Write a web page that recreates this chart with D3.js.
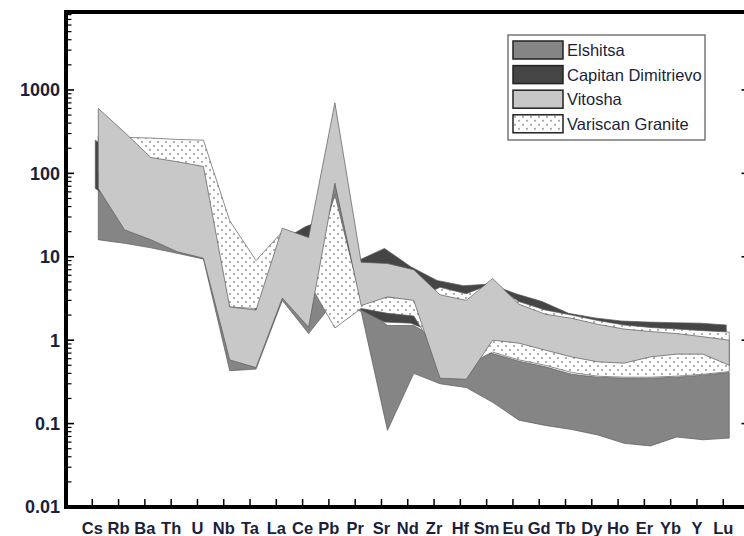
<!DOCTYPE html>
<html>
<head>
<meta charset="utf-8">
<script src="https://cdn.jsdelivr.net/npm/d3@7"></script>
<style>
  html, body { margin: 0; padding: 0; background: #fff; }
  svg text { font-family: "Liberation Sans", Arial, sans-serif; }
</style>
</head>
<body>
<div id="chart"></div>
<script>
const elements = ["Cs","Rb","Ba","Th","U","Nb","Ta","La","Ce","Pb","Pr","Sr","Nd","Zr","Hf","Sm","Eu","Gd","Tb","Dy","Ho","Er","Yb","Y","Lu"];

// band limits (sample / chondrite)
const elshitsaHigh = [70, 40, 30, 25, 20, 1.5, 1.5, 4, 3, 80, 2.6, 1.5, 1.5, 1.0, 0.9, 0.69, 0.56, 0.48, 0.39, 0.36, 0.35, 0.35, 0.36, 0.38, 0.41];
const elshitsaLow  = [16, 14.5, 12.8, 11, 9.4, 0.43, 0.45, 3.0, 1.2, 3, 2.2, 0.083, 0.4, 0.3, 0.27, 0.18, 0.11, 0.095, 0.085, 0.073, 0.058, 0.054, 0.069, 0.064, 0.067];

const capitanHigh = [250, 150, 100, 80, 70, 2.0, 2.0, 15, 23, 30, 9, 12.6, 7.6, 5.2, 4.5, 4.7, 3.6, 2.9, 2.1, 1.85, 1.7, 1.65, 1.62, 1.6, 1.52];
const capitanLow  = [66, 40, 30, 25, 20, 1.0, 1.0, 4, 4, 5, 2.4, 1.65, 1.6, 1.2, 1.2, 1.5, 1.5, 1.4, 1.3, 1.25, 1.2, 1.2, 1.2, 1.2, 1.2];

const vitoshaHigh = [600, 310, 155, 138, 121, 2.5, 2.3, 22, 17, 700, 8.6, 8.3, 7.0, 3.5, 3.0, 5.5, 2.7, 2.05, 1.83, 1.55, 1.36, 1.27, 1.2, 1.1, 1.0];
const vitoshaLow  = [66, 21, 16, 11.5, 9.6, 0.58, 0.47, 3.2, 1.43, 76, 2.6, 3.3, 3.0, 0.35, 0.34, 1.0, 0.92, 0.76, 0.63, 0.55, 0.53, 0.63, 0.68, 0.68, 0.5];

const variscanHigh = [280, 270, 265, 255, 250, 27, 9, 20, 5.2, 55, 3.0, 3.3, 3.1, 4.3, 3.6, 4.8, 2.9, 2.3, 2.0, 1.72, 1.52, 1.42, 1.36, 1.3, 1.25];
const variscanLow  = [100, 60, 40, 30, 25, 2.5, 2.4, 3.5, 5.0, 1.4, 2.4, 2.1, 1.95, 0.6, 0.5, 0.72, 0.58, 0.5, 0.41, 0.37, 0.36, 0.36, 0.37, 0.39, 0.42];

const seriesNames = ["Elshitsa", "Capitan Dimitrievo", "Vitosha", "Variscan Granite"];
const yTickValues = [0.01, 0.1, 1, 10, 100, 1000];
const yTickLabels = ["0.01", "0.1", "1", "10", "100", "1000"];

const bands = {
    "Elshitsa": [elshitsaHigh, elshitsaLow],
    "Capitan Dimitrievo": [capitanHigh, capitanLow],
    "Vitosha": [vitoshaHigh, vitoshaLow],
    "Variscan Granite": [variscanHigh, variscanLow]
};

const fills = {
    "Elshitsa": "#858585",
    "Capitan Dimitrievo": "#454545",
    "Vitosha": "#c8c8c8",
    "Variscan Granite": "url(#dots)"
};
const shift = {"Elshitsa": 6, "Capitan Dimitrievo": 3, "Vitosha": 6, "Variscan Granite": 6};
const drawOrder = ["Elshitsa", "Capitan Dimitrievo", "Variscan Granite", "Vitosha"];

const textColor = "#1b1f3b";
const plotLeft = 66, plotTop = 12, plotBottom = 507;

const svg = d3.select("#chart")
              .append("svg")
              .attr("width", 744)
              .attr("height", 536);

// dotted fill
const pat = svg.append("defs").append("pattern")
               .attr("id", "dots")
               .attr("patternUnits", "userSpaceOnUse")
               .attr("width", 8)
               .attr("height", 8);
pat.append("rect").attr("width", 8).attr("height", 8).attr("fill", "#fff");
pat.append("circle").attr("cx", 2).attr("cy", 2).attr("r", 0.9).attr("fill", "#8a8a8a");
pat.append("circle").attr("cx", 6).attr("cy", 6).attr("r", 0.9).attr("fill", "#8a8a8a");

// scales
const xScale = d3.scaleLinear()
                 .domain([0, elements.length + 1])
                 .range([plotLeft, plotLeft + 26 * 26.29]);

const yScale = d3.scaleLog()
                 .domain([0.01, 8600])
                 .range([plotBottom, plotTop]);

// bands
drawOrder.forEach(name => {
    const [hi, lo] = bands[name];
    const area = d3.area()
                   .x((_, i) => xScale(i + 1) + shift[name])
                   .y0((_, i) => yScale(lo[i]))
                   .y1((_, i) => yScale(hi[i]));
    svg.append("path")
       .datum(elements)
       .attr("d", area)
       .attr("fill", fills[name])
       .attr("stroke", "#5a5a5a")
       .attr("stroke-width", 0.7)
       .attr("stroke-linejoin", "miter");
});

// Y ticks (left inward, right inward)
const allTicks = yScale.ticks();
const isMajor = d => Math.abs(Math.log10(d) - Math.round(Math.log10(d))) < 1e-6;
const xRight = xScale(elements.length + 1);

svg.append("g")
   .selectAll("line")
   .data(allTicks)
   .join("line")
   .attr("x1", plotLeft)
   .attr("x2", d => plotLeft + (isMajor(d) ? 8 : 5.5))
   .attr("y1", d => yScale(d))
   .attr("y2", d => yScale(d))
   .attr("stroke", "#000")
   .attr("stroke-width", d => isMajor(d) ? 1.6 : 1.2);

svg.append("g")
   .selectAll("line")
   .data(allTicks)
   .join("line")
   .attr("x1", xRight)
   .attr("x2", d => xRight - (isMajor(d) ? 8 : 5.5))
   .attr("y1", d => yScale(d))
   .attr("y2", d => yScale(d))
   .attr("stroke", "#000")
   .attr("stroke-width", d => isMajor(d) ? 1.6 : 1.2);

svg.append("g")
   .selectAll("text")
   .data(yTickValues)
   .join("text")
   .attr("x", 60)
   .attr("y", d => yScale(d))
   .attr("dy", "0.36em")
   .attr("text-anchor", "end")
   .attr("font-size", "18px")
   .attr("font-weight", "bold")
   .attr("fill", textColor)
   .text((_, i) => yTickLabels[i]);

// X ticks and labels
svg.append("g")
   .selectAll("line")
   .data(elements)
   .join("line")
   .attr("x1", (_, i) => xScale(i + 1))
   .attr("x2", (_, i) => xScale(i + 1))
   .attr("y1", plotBottom)
   .attr("y2", plotBottom - 8)
   .attr("stroke", "#000")
   .attr("stroke-width", 1.5);

svg.append("g")
   .selectAll("text")
   .data(elements)
   .join("text")
   .attr("x", (_, i) => xScale(i + 1))
   .attr("y", 534)
   .attr("text-anchor", "middle")
   .attr("font-size", "16.5px")
   .attr("font-weight", "bold")
   .attr("fill", textColor)
   .text(d => d);

// frame
svg.append("line")
   .attr("x1", plotLeft).attr("x2", plotLeft)
   .attr("y1", plotTop - 2).attr("y2", plotBottom + 2)
   .attr("stroke", "#000").attr("stroke-width", 4);
svg.append("line")
   .attr("x1", plotLeft - 2).attr("x2", xRight + 2)
   .attr("y1", plotBottom).attr("y2", plotBottom)
   .attr("stroke", "#000").attr("stroke-width", 4);
svg.append("line")
   .attr("x1", plotLeft - 2).attr("x2", xRight + 2)
   .attr("y1", plotTop).attr("y2", plotTop)
   .attr("stroke", "#000").attr("stroke-width", 4);
svg.append("line")
   .attr("x1", xRight).attr("x2", xRight)
   .attr("y1", plotTop).attr("y2", plotBottom)
   .attr("stroke", "#000").attr("stroke-width", 4);

// legend
const legend = svg.append("g").attr("transform", "translate(508, 35)");
legend.append("rect")
      .attr("width", 197)
      .attr("height", 105)
      .attr("fill", "#fff")
      .attr("stroke", "#777")
      .attr("stroke-width", 1.5);

const rows = legend.selectAll("g")
                   .data(seriesNames)
                   .join("g")
                   .attr("transform", (_, i) => `translate(5, ${6 + i * 24.6})`);

rows.append("rect")
    .attr("width", 50)
    .attr("height", 18)
    .attr("fill", d => fills[d])
    .attr("stroke", "#222")
    .attr("stroke-width", 1.5);

rows.append("text")
    .attr("x", 54)
    .attr("y", 15)
    .attr("font-size", "16.5px")
    .attr("fill", textColor)
    .text(d => d);
</script>
</body>
</html>
